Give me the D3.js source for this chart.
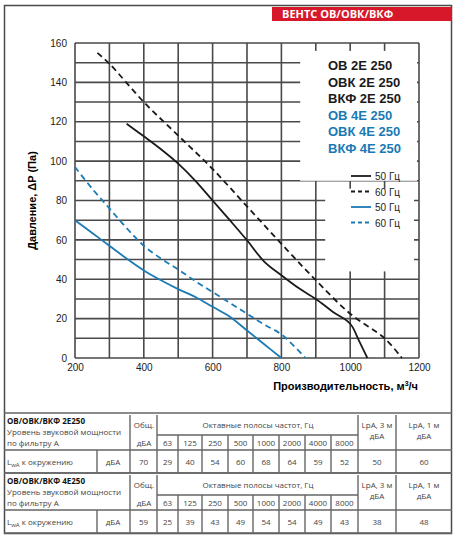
<!DOCTYPE html><html><head><meta charset="utf-8"><script src="https://cdn.jsdelivr.net/npm/d3@7"></script>
<style>body{margin:0;background:#fff}text{font-family:"Open Sans",sans-serif}</style></head><body><svg id="c" width="456" height="536"></svg><script>
const xTicks=[200,400,600,800,1000,1200];
const yTicks=[0,20,40,60,80,100,120,140,160];
const s2e50=[[350,119],[400,112.6],[450,106],[500,98.7],[550,90],[600,80],[650,70],[700,59.8],[750,49],[800,42],[850,35.5],[900,30],[950,23.4],[1000,17.4],[1025,9],[1050,0]];
const s2e60=[[265,155],[300,149.5],[400,130],[500,113],[600,96],[700,77],[800,58],[900,39.5],[1000,22.5],[1100,10],[1150,0]];
const s4e50=[[200,70],[250,63.5],[300,57],[350,50.5],[400,44.5],[450,39.5],[500,35],[550,31],[600,26],[650,21],[700,14],[750,7],[800,0]];
const s4e60=[[200,97],[250,86],[300,76],[350,66],[400,57],[450,50.5],[500,45],[550,39],[600,33.5],[650,28],[700,22.5],[750,17],[800,12],[870,0]];
const models2=["ОВ 2Е 250","ОВК 2Е 250","ВКФ 2Е 250"];
const models4=["ОВ 4Е 250","ОВК 4Е 250","ВКФ 4Е 250"];
const freqs=["63","125","250","500","1000","2000","4000","8000"];
const vals2=[70,29,40,54,60,68,64,59,52,50,60];
const vals4=[59,25,39,43,49,54,54,49,43,38,48];
const BLACK="#1a1a1a",BLUE="#1a7ab5",GRID="#4a4a4a",TL="#666666";
const svg=d3.select("#c");
svg.append("rect").attr("x",4.5).attr("y",5.5).attr("width",447).attr("height",528).attr("fill","none").attr("stroke",GRID).attr("stroke-width",1.5);
svg.append("rect").attr("x",272).attr("y",7).attr("width",180).attr("height",14).attr("fill","#d7182a");
svg.append("text").attr("x",282).attr("y",18).attr("fill","#ffffff").attr("font-size",11).attr("font-weight","bold").text("ВЕНТС ОВ/ОВК/ВКФ");
const x=d3.scaleLinear().domain([200,1200]).range([75,419]);
const y=d3.scaleLinear().domain([0,160]).range([358,43]);
const gp=d3.path();
d3.range(200,1201,100).forEach(d=>{gp.moveTo(x(d),y(0));gp.lineTo(x(d),y(160));});
d3.range(0,161,10).forEach(d=>{gp.moveTo(x(200),y(d));gp.lineTo(x(1200),y(d));});
svg.append("path").attr("d",gp.toString()).attr("fill","none").attr("stroke",GRID).attr("stroke-width",1.6);
const g=svg.append("g");
g.append("rect").attr("x",x(1000)-50).attr("y",y(156)).attr("width",x(1200)-x(1000)+48).attr("height",y(90)-y(156)).attr("fill","#ffffff");
g.append("rect").attr("x",x(1000)-25).attr("y",y(86)).attr("width",x(1200)-x(1000)+20).attr("height",y(44)-y(86)).attr("fill","#ffffff");
const xa=svg.append("g").attr("transform",`translate(0,${y(0)})`).call(d3.axisBottom(x).tickValues(xTicks).tickFormat(d3.format("d")).tickSize(0).tickPadding(6));
const ya=svg.append("g").attr("transform",`translate(${x(200)},0)`).call(d3.axisLeft(y).tickValues(yTicks).tickSize(0).tickPadding(8));
[xa,ya].forEach(a=>{a.select(".domain").remove();a.selectAll("text").attr("font-size",10).attr("fill","#222222").style("font-family","Liberation Sans,Arial,sans-serif");});
svg.append("text").attr("transform",`translate(36,${y(80)}) rotate(-90)`).attr("text-anchor","middle").attr("font-size",11).attr("font-weight","bold").style("font-family","Liberation Sans,Arial").text("Давление, ΔP (Па)");
svg.append("text").attr("x",418).attr("y",390).attr("text-anchor","end").attr("font-size",11).attr("font-weight","bold").style("font-family","Liberation Sans,Arial").html('Производительность,  м<tspan dy="-4" font-size="7">3</tspan><tspan dy="4">/ч</tspan>');
const line=d3.line().x(d=>x(d[0])).y(d=>y(d[1])).curve(d3.curveCatmullRom);
[[s2e50,BLACK,null],[s2e60,BLACK,"6,4"],[s4e50,BLUE,null],[s4e60,BLUE,"6,4"]].forEach(([d,c,da])=>{
 g.append("path").attr("d",line(d)).attr("fill","none").attr("stroke",c).attr("stroke-width",1.8).attr("stroke-dasharray",da);});
models2.concat(models4).forEach((m,i)=>svg.append("text").attr("x",328).attr("y",70+i*16.5).attr("font-size",13).attr("font-weight","bold").attr("fill",i<3?BLACK:BLUE).style("font-family","Liberation Sans,Arial").text(m));
[[BLACK,null],[BLACK,"4,3"],[BLUE,null],[BLUE,"4,3"]].forEach(([c,da],i)=>{
 const yy=176+i*15.5;
 svg.append("line").attr("x1",351).attr("x2",371).attr("y1",yy).attr("y2",yy).attr("stroke",c).attr("stroke-width",1.8).attr("stroke-dasharray",da);
 svg.append("text").attr("x",375).attr("y",yy+4).attr("font-size",10).attr("fill","#222222").style("font-family","Liberation Sans,Arial").text(i%2?"60 Гц":"50 Гц");});
const colX=[130,157,178,202,228,253,279,305,331,358,396,452];
function table(top,name,vals){
 const t=svg.append("g").attr("font-size",8);
 const tp=d3.path();
 const L=(x1,y1,x2,y2)=>{tp.moveTo(x1,y1);tp.lineTo(x2,y2);};
 L(4,top,452,top);L(4,top+37,452,top+37);L(4,top+60,452,top+60);
 L(colX[1],top+22,colX[9],top+22);
 [0,1,9,10].forEach(i=>L(colX[i],top+2,colX[i],top+60));
 for(let i=2;i<9;i++)L(colX[i],top+22,colX[i],top+60);
 L(97,top+37,97,top+60);
 t.append("path").attr("d",tp.toString()).attr("fill","none").attr("stroke",TL).attr("stroke-width",1.4);
 const T=(xx,yy,s,a="middle",w)=>t.append("text").attr("x",xx).attr("y",yy).attr("text-anchor",a).attr("font-weight",w||null).attr("fill",w?"#111111":"#444444").text(s);
 T(7,top+11,name,"start","bold");T(7,top+22,"Уровень звуковой мощности","start");T(7,top+33,"по фильтру А","start");
 T(144,top+15,"Общ.");T(144,top+33,"дБА");T(258,top+15,"Октавные полосы частот, Гц");
 freqs.forEach((f,i)=>T((colX[i+1]+colX[i+2])/2,top+33,f));
 T(377,top+15,"LpA, 3 м");T(377,top+26,"дБА");T(424,top+15,"LpA, 1 м");T(424,top+26,"дБА");
 t.append("text").attr("x",7).attr("y",top+52).attr("fill","#444444").html('L<tspan font-size="6" dy="2">wA</tspan><tspan dy="-2"> к окружению</tspan>');
 T(113,top+52,"дБА");
 vals.forEach((v,i)=>T((colX[i]+colX[i+1])/2,top+52,v));
}
table(413,"ОВ/ОВК/ВКФ 2Е250",vals2);
table(473,"ОВ/ОВК/ВКФ 4Е250",vals4);
</script></body></html>
